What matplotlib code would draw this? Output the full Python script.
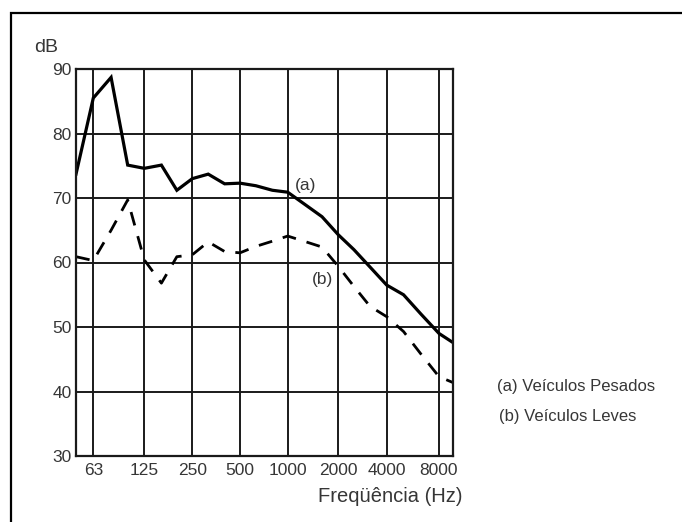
import numpy as np
import matplotlib
matplotlib.use('Agg')
import matplotlib.pyplot as plt
from matplotlib.patches import Rectangle
from matplotlib.ticker import FixedLocator, NullLocator

plt.rcParams['font.family'] = ['Liberation Sans', 'DejaVu Sans']

# 1/3 octave bands (Hz)
freq = [50, 63, 80, 100, 125, 160, 200, 250, 315, 400, 500, 630, 800,
        1000, 1250, 1600, 2000, 2500, 3150, 4000, 5000, 6300, 8000, 10000]
# (a) heavy vehicles
pesados = [73.7, 85.5, 88.7, 75.1, 74.6, 75.1, 71.2, 73.0, 73.7, 72.2, 72.3, 71.9, 71.2,
           70.9, 69.1, 67.1, 64.3, 62.0, 59.3, 56.5, 55.0, 52.0, 49.0, 47.3]
# (b) light vehicles
leves = [60.9, 60.3, 65.0, 69.7, 60.4, 56.8, 60.9, 61.2, 63.2, 61.7, 61.5, 62.5, 63.3,
         64.1, 63.3, 62.4, 59.4, 56.3, 53.2, 51.6, 49.3, 45.8, 42.3, 41.2]

xticks = [63, 125, 250, 500, 1000, 2000, 4000, 8000]
xticklabels = ['63', '125', '250', '500', '1000', '2000', '4000', '8000']
yticks = [30, 40, 50, 60, 70, 80, 90]

# the printed octave grid is not evenly spaced; follow it with a warped log axis
oct_f = np.log2([50, 63, 125, 250, 500, 1000, 2000, 4000, 8000, 10000])
oct_p = np.array([0, 17.3, 68.3, 116.3, 164, 211.7, 262.3, 310.7, 363, 379.8])


def fwd(x):
    x = np.clip(np.asarray(x, dtype=float), 1e-3, None)
    return np.interp(np.log2(x), oct_f, oct_p, left=None, right=None) + \
        np.where(np.log2(x) > oct_f[-1], (np.log2(x) - oct_f[-1]) * 52, 0) + \
        np.where(np.log2(x) < oct_f[0], (np.log2(x) - oct_f[0]) * 52, 0)


def inv(p):
    p = np.asarray(p, dtype=float)
    lf = np.interp(p, oct_p, oct_f)
    lf = lf + np.where(p > oct_p[-1], (p - oct_p[-1]) / 52, 0) + \
        np.where(p < oct_p[0], (p - oct_p[0]) / 52, 0)
    return 2 ** lf


txt = '#363636'

fig = plt.figure(figsize=(6.82, 5.22), dpi=100)
# outer frame (left and top edges only visible)
fig.patches.append(Rectangle((11 / 682, -0.1), 1.2, 1 - 13 / 522 + 0.1,
                             transform=fig.transFigure, fill=False,
                             edgecolor='black', linewidth=1.6))

ax = fig.add_axes([76 / 682, 1 - 456 / 522, (453 - 76) / 682, (456 - 69) / 522])
ax.set_xscale('function', functions=(fwd, inv))
ax.set_xlim(50, inv(377.0))
ax.set_ylim(30, 90)
ax.xaxis.set_major_locator(FixedLocator(xticks))
ax.xaxis.set_minor_locator(NullLocator())
ax.set_xticklabels(xticklabels)
ax.set_yticks(yticks)
ax.tick_params(length=0, labelsize=12.5, labelcolor=txt)
ax.tick_params(axis='x', pad=5)
ax.tick_params(axis='y', pad=3)
ax.grid(True, color='#1a1a1a', linewidth=1.4)
for s in ax.spines.values():
    s.set_linewidth(1.6)
    s.set_color('#1a1a1a')

ax.plot(freq, pesados, color='black', linewidth=2.3, solid_joinstyle='miter')
ax.plot(freq, leves, color='black', linewidth=2.0, dashes=(5, 4))

ax.text(1100, 72.0, '(a)', fontsize=12.5, color=txt, ha='left', va='center')
ax.text(1615, 57.3, '(b)', fontsize=12.5, color=txt, ha='center', va='center')

fig.text(58 / 682, 1 - 47 / 522, 'dB', fontsize=14, color=txt, ha='right', va='center')
fig.text(463 / 682, 1 - 496 / 522, 'Freqüência (Hz)', fontsize=14.5, color=txt,
         ha='right', va='center')
fig.text(497 / 682, 1 - 387 / 522, '(a) Veículos Pesados', fontsize=12, color=txt,
         ha='left', va='center')
fig.text(499 / 682, 1 - 416 / 522, '(b) Veículos Leves', fontsize=12, color=txt,
         ha='left', va='center')

fig.savefig('out.png', dpi=100)
